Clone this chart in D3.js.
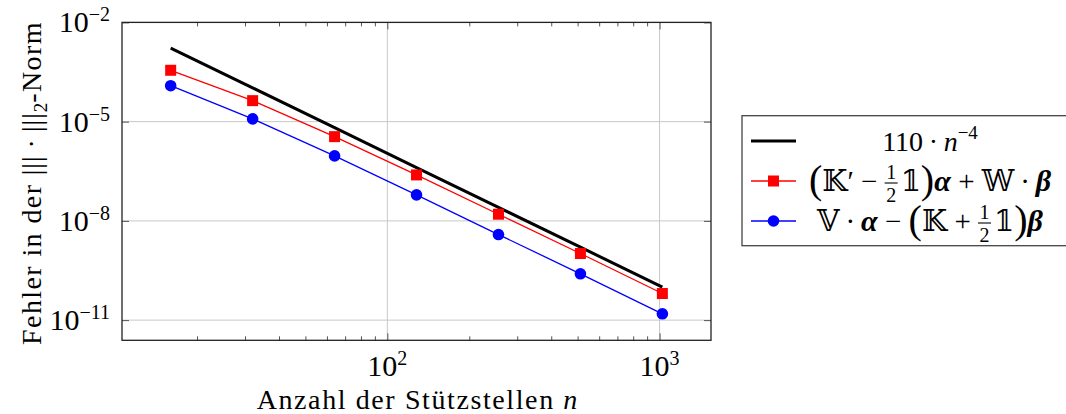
<!DOCTYPE html>
<html>
<head>
<meta charset="utf-8">
<script src="https://cdn.jsdelivr.net/npm/d3@7"></script>
<style>
  html, body { margin: 0; padding: 0; background: #fff; }
  svg { display: block; font-family: "Liberation Serif", "DejaVu Serif", "DejaVu Sans", serif; }
  svg text { white-space: pre; }
</style>
</head>
<body>
<div id="app"></div>
<script>
// sample sizes (x values)
const ns = [16, 32, 64, 128, 256, 512, 1024]
// reference slope 110 * n^-4, values at the sample sizes
const refVals = [1.68e-3, 1.05e-4, 6.56e-6, 4.10e-7, 2.56e-8, 1.60e-9, 1.00e-10]
// error of the first formulation (red squares)
const errK = [3.57e-4, 4.31e-5, 3.52e-6, 2.45e-7, 1.59e-8, 1.03e-9, 6.37e-11]
// error of the second formulation (blue circles)
const errV = [1.22e-4, 1.21e-5, 9.2e-7, 6.1e-8, 3.86e-9, 2.51e-10, 1.55e-11]

const xMajor = [100, 1000]
const xMinor = [20, 30, 40, 50, 60, 70, 80, 90, 200, 300, 400, 500, 600, 700, 800, 900]
const yMajor = [1e-2, 1e-5, 1e-8, 1e-11]
const xTickExp = ['2', '3']
const yTickExp = ['−2', '−5', '−8', '−11']

const xDomain = [10.6, 1545]
const yDomain = [Math.pow(10, -11.61), 1e-2]

const W = 1066, H = 414
const plot = { left: 122, right: 711, top: 22.4, bottom: 340.3 }
const FS = 28
const TS = 30 // tick label size
const th = '\u2009' // thin space

const svg = d3.select('#app').append('svg')
  .attr('width', W).attr('height', H)

const x = d3.scaleLog().domain(xDomain).range([plot.left, plot.right])
const y = d3.scaleLog().domain(yDomain).range([plot.bottom, plot.top])

// lays out a row of text pieces (with fractions, sub/superscripts)
function mathText(parent, px, py, segs, anchor, rotate) {
  const outer = parent.append('g')
    .attr('transform', `translate(${px},${py})` + (rotate ? ` rotate(${rotate})` : ''))
  const g = outer.append('g')
  let cx = 0
  segs.forEach((s) => {
    if (s.frac) {
      const fs = s.size || 19
      const num = g.append('text').attr('font-size', fs).attr('text-anchor', 'middle').text(s.frac[0])
      const den = g.append('text').attr('font-size', fs).attr('text-anchor', 'middle').text(s.frac[1])
      const w = Math.max(num.node().getComputedTextLength(), den.node().getComputedTextLength()) + 3
      num.attr('x', cx + w / 2).attr('y', -12)
      den.attr('x', cx + w / 2).attr('y', 11)
      g.append('line').attr('x1', cx).attr('x2', cx + w)
        .attr('y1', -8).attr('y2', -8).attr('stroke', '#000').attr('stroke-width', 1.1)
      cx += w + (s.gap || 3)
    } else {
      const t = g.append('text')
        .attr('x', cx).attr('y', s.dy || 0)
        .attr('font-size', s.size || FS)
        .attr('font-style', s.italic ? 'italic' : null)
        .attr('font-weight', s.bold ? 'bold' : null)
        .attr('letter-spacing', s.ls || null)
        .text(s.t)
      cx += t.node().getComputedTextLength() + (s.gap || 0)
    }
  })
  const shift = anchor === 'middle' ? -cx / 2 : anchor === 'end' ? -cx : 0
  g.attr('transform', `translate(${shift},0)`)
  return outer
}

// grid
svg.append('g').selectAll('line').data(xMajor).join('line')
  .attr('x1', (d) => x(d)).attr('x2', (d) => x(d))
  .attr('y1', plot.top).attr('y2', plot.bottom)
  .attr('stroke', '#c8c8c8').attr('stroke-width', 1)
svg.append('g').selectAll('line').data(yMajor).join('line')
  .attr('x1', plot.left).attr('x2', plot.right)
  .attr('y1', (d) => y(d)).attr('y2', (d) => y(d))
  .attr('stroke', '#c8c8c8').attr('stroke-width', 1)

// ticks (inside, on all four sides)
const tickColor = '#555'
svg.append('g').attr('transform', `translate(0,${plot.bottom})`)
  .call(d3.axisBottom(x).tickValues(xMinor).tickSize(-4).tickFormat(''))
svg.append('g').attr('transform', `translate(0,${plot.top})`)
  .call(d3.axisTop(x).tickValues(xMinor).tickSize(-4).tickFormat(''))
svg.append('g').attr('transform', `translate(0,${plot.bottom})`)
  .call(d3.axisBottom(x).tickValues(xMajor).tickSize(-7).tickFormat(''))
svg.append('g').attr('transform', `translate(0,${plot.top})`)
  .call(d3.axisTop(x).tickValues(xMajor).tickSize(-7).tickFormat(''))
svg.append('g').attr('transform', `translate(${plot.left},0)`)
  .call(d3.axisLeft(y).tickValues(yMajor).tickSize(-7).tickFormat(''))
svg.append('g').attr('transform', `translate(${plot.right},0)`)
  .call(d3.axisRight(y).tickValues(yMajor).tickSize(-7).tickFormat(''))
svg.selectAll('.domain').remove()
svg.selectAll('.tick line').attr('stroke', tickColor).attr('stroke-width', 1)

// frame
svg.append('rect')
  .attr('x', plot.left).attr('y', plot.top)
  .attr('width', plot.right - plot.left).attr('height', plot.bottom - plot.top)
  .attr('fill', 'none').attr('stroke', '#222').attr('stroke-width', 1.3)

// tick labels
xMajor.forEach((v, i) => {
  mathText(svg, x(v), 376, [
    { t: '10', size: TS },
    { t: xTickExp[i], size: 20, dy: -11 }
  ], 'middle')
})
yMajor.forEach((v, i) => {
  mathText(svg, 110, y(v) + 10, [
    { t: '10', size: TS },
    { t: yTickExp[i], size: 20, dy: -11 }
  ], 'end')
})

// axis labels
mathText(svg, 417, 409, [
  { t: 'Anzahl der Stützstellen ', ls: 1.6 },
  { t: 'n', italic: true }
], 'middle')
mathText(svg, 41, 183, [
  { t: 'Fehler in der ', ls: 1.4 },
  { t: '|||', ls: 1 },
  { t: ' · ' },
  { t: '|||', ls: 1 },
  { t: '2', size: 19, dy: 6 },
  { t: '-Norm', ls: 1.4 }
], 'middle', -90)

// series
const line = d3.line().x((d) => x(d[0])).y((d) => y(d[1]))
const refPts = ns.map((n, i) => [n, refVals[i]])
const kPts = ns.map((n, i) => [n, errK[i]])
const vPts = ns.map((n, i) => [n, errV[i]])

svg.append('path').datum(refPts).attr('d', line)
  .attr('fill', 'none').attr('stroke', '#000').attr('stroke-width', 3)
svg.append('path').datum(kPts).attr('d', line)
  .attr('fill', 'none').attr('stroke', '#ff0000').attr('stroke-width', 1.3)
svg.append('path').datum(vPts).attr('d', line)
  .attr('fill', 'none').attr('stroke', '#0000ff').attr('stroke-width', 1.3)

svg.append('g').selectAll('rect').data(kPts).join('rect')
  .attr('x', (d) => x(d[0]) - 5.5).attr('y', (d) => y(d[1]) - 5.5)
  .attr('width', 11).attr('height', 11).attr('fill', '#ff0000')
svg.append('g').selectAll('circle').data(vPts).join('circle')
  .attr('cx', (d) => x(d[0])).attr('cy', (d) => y(d[1]))
  .attr('r', 5.8).attr('fill', '#0000ff')

// legend
const lg = svg.append('g')
lg.append('rect')
  .attr('x', 742).attr('y', 115.7).attr('width', 340).attr('height', 130)
  .attr('fill', '#fff').attr('stroke', '#444').attr('stroke-width', 1.3)
const rows = [141, 181, 221]
lg.append('line').attr('x1', 751).attr('x2', 796).attr('y1', rows[0]).attr('y2', rows[0])
  .attr('stroke', '#000').attr('stroke-width', 3)
lg.append('line').attr('x1', 751).attr('x2', 796).attr('y1', rows[1]).attr('y2', rows[1])
  .attr('stroke', '#ff0000').attr('stroke-width', 1.3)
lg.append('rect').attr('x', 773.5 - 5.5).attr('y', rows[1] - 5.5).attr('width', 11).attr('height', 11)
  .attr('fill', '#ff0000')
lg.append('line').attr('x1', 751).attr('x2', 796).attr('y1', rows[2]).attr('y2', rows[2])
  .attr('stroke', '#0000ff').attr('stroke-width', 1.3)
lg.append('circle').attr('cx', 773.5).attr('cy', rows[2]).attr('r', 5.8).attr('fill', '#0000ff')

const big = 40, LS = 30, DS = 29
mathText(lg, 930, rows[0] + 10, [
  { t: '110' + th + '·' + th, size: 28 },
  { t: 'n', italic: true, size: 28 },
  { t: '−4', size: 19, dy: -12 }
], 'middle')
mathText(lg, 930, rows[1] + 10, [
  { t: '(', size: big, dy: 2 },
  { t: '𝕂′ − ', size: DS },
  { frac: ['1', '2'], size: 20 },
  { t: '𝟙', size: DS },
  { t: ')', size: big, dy: 2 },
  { t: 'α ', bold: true, italic: true, size: LS },
  { t: '+ 𝕎' + th + '·' + th, size: DS },
  { t: 'β', bold: true, italic: true, size: LS }
], 'middle')
mathText(lg, 930, rows[2] + 10, [
  { t: '𝕍' + th + '·' + th, size: DS },
  { t: 'α ', bold: true, italic: true, size: LS },
  { t: '− ', size: DS },
  { t: '(', size: big, dy: 2 },
  { t: '𝕂 + ', size: DS },
  { frac: ['1', '2'], size: 20 },
  { t: '𝟙', size: DS },
  { t: ')', size: big, dy: 2 },
  { t: 'β', bold: true, italic: true, size: LS }
], 'middle')
</script>
</body>
</html>
